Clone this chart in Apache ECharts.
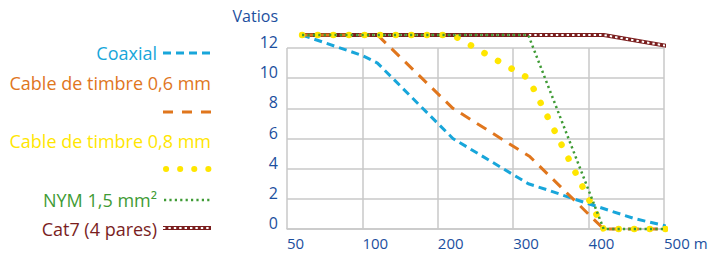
<!DOCTYPE html>
<html>
<head>
<meta charset="utf-8">
<script src="https://cdn.jsdelivr.net/npm/echarts@6/dist/echarts.min.js"></script>
<style>
	html,body{margin:0;padding:0;background:#fff;}
	#main{width:718px;height:254px;}
</style>
</head>
<body>
<div id="main"></div>
<script type="text/javascript">
	// x ticks (metres) - the axis is not linear: 50-100 has the same width as 100-200
	var xTicks = [50, 100, 200, 300, 400, 500];
	var xLabels = ["50", "100", "200", "300", "400", "500 m"];
	var yTicks = [0, 2, 4, 6, 8, 10, 12];

	// [metres, vatios]
	var coaxial = [[60,12.86],[100,11.5],[120,11.0],[220,6.0],[320,3.0],[345,2.6],[380,2.0],[460,0.7],[520,0]];
	var timbre06 = [[60,12.86],[120,12.86],[220,8.0],[322,4.8],[420,0],[520,0]];
	var timbre08 = [[60,12.86],[220,12.86],[320,10.0],[420,0],[520,0]];
	var nym15 = [[60,12.86],[320,12.86],[420,0],[520,0]];
	var cat7 = [[60,12.86],[420,12.86],[520,12.0]];

	var blue = "#1c4f9e";
	var colors = {
		coax:"#18a6da",
		t06:"#e0761d",
		t08:"#ffe600",
		nym:"#3f9b35",
		cat7:"#7a1e1e"
	};
	var font = "'Open Sans', sans-serif";

	// metres -> position on the category-like axis
	function toPos(m){
		for(var i=1;i<xTicks.length;i++){
			if(m <= xTicks[i] || i === xTicks.length-1){
				return (i-1) + (m - xTicks[i-1])/(xTicks[i]-xTicks[i-1]);
			}
		}
	}
	function conv(arr){
		return arr.map(function(p){ return [toPos(p[0]), p[1]]; });
	}

	function lineSeries(name, data, color, width, type, cap){
		return {
			name:name,
			type:'line',
			data:conv(data),
			symbol:'none',
			clip:false,
			silent:true,
			lineStyle:{color:color, width:width, type:type, cap:cap || 'butt'}
		};
	}

	//legend drawn as graphic (text then sample, right aligned)
	function txt(x, y, text, color){
		return {type:'text', x:x, y:y, style:{text:text, fill:color, font:'18px '+font, align:'right', verticalAlign:'middle'}};
	}
	function sample(y, color, width, dash, cap, x1, x2){
		return {type:'line', shape:{x1:x1||163, y1:y, x2:x2||211, y2:y}, style:{stroke:color, lineWidth:width, lineDash:dash, lineCap:cap||'butt'}};
	}

	var legend = [
		txt(157, 53, "Coaxial", colors.coax),
		sample(53, colors.coax, 3, [8,5]),
		txt(211, 83, "Cable de timbre 0,6 mm", colors.t06),
		sample(112, colors.t06, 3, [10,9]),
		txt(211, 141, "Cable de timbre 0,8 mm", colors.t08),
		sample(169, colors.t08, 6, [0.1,14], 'round', 166, 210),
		txt(157, 200, "NYM 1,5 mm²", colors.nym),
		sample(200, colors.nym, 2.5, [2.2,3.2], 'butt', 164, 211),
		txt(157, 229, "Cat7 (4 pares)", colors.cat7),
		sample(228, colors.cat7, 4, null),
		sample(228, "#fff", 2, [2.4,3])
	];

	var myChart = echarts.init(document.getElementById("main"), null, {renderer:'svg'});

	var option = {
		animation:false,
		grid:{left:287, right:54, top:48, bottom:25},
		xAxis:{
			type:'value',
			min:0,
			max:xTicks.length-1,
			interval:1,
			axisLine:{show:true, lineStyle:{color:'#c9c9c9', width:1.5}},
			axisTick:{show:false},
			splitLine:{show:true, lineStyle:{color:'#c9c9c9', width:1.5}},
			axisLabel:{
				color:blue, fontSize:15, fontFamily:font, align:'left', margin:6, lineHeight:15,
				formatter:function(v){ return xLabels[v]; }
			}
		},
		yAxis:{
			type:'value',
			min:yTicks[0],
			max:yTicks[yTicks.length-1],
			interval:2,
			name:"Vatios",
			nameLocation:'end',
			nameGap:32,
			nameTextStyle:{color:blue, fontSize:16, fontFamily:font, align:'right', verticalAlign:'middle', padding:[0,9,0,0]},
			axisLine:{show:false},
			axisTick:{show:false},
			splitLine:{show:true, lineStyle:{color:'#c9c9c9', width:1.5}},
			axisLabel:{color:blue, fontSize:16, fontFamily:font, margin:9, verticalAlign:'bottom', lineHeight:12}
		},
		graphic:legend,
		series:[
			lineSeries("Cat7 (4 pares)", cat7, colors.cat7, 4, 'solid'),
			lineSeries("", cat7, "#fff", 2, [2.4,3]),
			lineSeries("Coaxial", coaxial, colors.coax, 3, [8,5]),
			lineSeries("Cable de timbre 0,6 mm", timbre06, colors.t06, 3, [11,8]),
			lineSeries("Cable de timbre 0,8 mm", timbre08, colors.t08, 6.5, [0.1,15.5], 'round'),
			lineSeries("NYM 1,5 mm²", nym15, colors.nym, 2.5, [2.2,3.2])
		]
	};

	myChart.setOption(option);
</script>
</body>
</html>
